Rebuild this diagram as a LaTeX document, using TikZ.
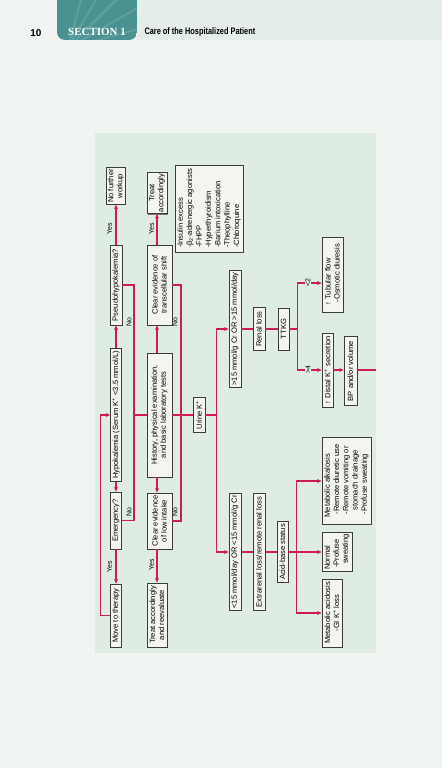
\documentclass[tikz,border=0pt]{standalone}
\usepackage{fontspec}
\setmainfont{Liberation Sans}
\newfontfamily\slabfont{Liberation Serif}
\usetikzlibrary{arrows.meta,shadows}
\definecolor{pagebg}{RGB}{240,245,242}
\definecolor{bandbg}{RGB}{228,237,232}
\definecolor{tabteal}{RGB}{74,146,146}
\definecolor{panelbg}{RGB}{223,236,227}
\definecolor{flowred}{RGB}{204,30,80}
\definecolor{boxfill}{RGB}{244,244,241}
\definecolor{boxline}{RGB}{60,60,60}

\begin{document}
\begin{tikzpicture}[x=1bp, y=-1bp,
    box/.style={draw=boxline, line width=0.7bp, fill=boxfill, rotate=90, inner sep=1.5bp, align=center,
        font=\fontsize{7.6}{9}\selectfont, general shadow={fill=black!55, shadow xshift=0.9bp, shadow yshift=-0.9bp}},
    sz/.style 2 args={minimum width=#1bp, minimum height=#2bp},
    lab/.style={rotate=90, inner sep=1bp, font=\fontsize{7}{8}\selectfont},
    arr/.style={draw=flowred, line width=1.2bp, -{Stealth[length=4.5bp, width=4bp]}},
    ln/.style={draw=flowred, line width=1.2bp},
]
\useasboundingbox (0,0) rectangle (442,768);
\clip (0,0) rectangle (442,768);

% Page and running head
\fill[pagebg] (0,0) rectangle (442,768);
\fill[bandbg] (137,0) rectangle (442,40);
\begin{scope}
\clip[rounded corners=8bp] (57,-10) rectangle (137,40);
\fill[tabteal] (57,-10) rectangle (137,40);
\foreach \a in {15,30,45,60,75}
    \draw[white, opacity=0.12, line width=2bp] (68,48) -- ++(-\a:90);
\end{scope}
\node[font=\bfseries\fontsize{10}{12}\selectfont] (pagenum) at (36,33) {10};
\node[text=white, font=\slabfont\bfseries\fontsize{11}{12}\selectfont] (section) at (97,32) {SECTION 1};
\node[anchor=west, font=\bfseries\fontsize{9.5}{11}\selectfont] (runhead) at (141,32)
    {\scalebox{0.78}[1]{Care of the Hospitalized Patient}};

% Panel
\fill[panelbg] (95,133) rectangle (376,653);

% Column 1
\node[box, sz={34}{18}] (nowork) at (116,186) {No further\\workup};
\node[box, sz={80}{12}] (pseudo) at (116,285) {Pseudohypokalemia?};
\node[box, sz={133}{11}] (hypo) at (116,415) {Hypokalemia (Serum K\textsuperscript{+} <3.5 mmol/L)};
\node[box, sz={57}{11}] (emerg) at (116,520.5) {Emergency?};
\node[box, sz={63}{11}] (move) at (116,615.5) {Move to therapy};

% Column 2
\node[box, sz={40}{20}] (treat) at (157,193) {Treat\\accordingly};
\node[box, sz={80}{25}] (shift) at (159.5,285) {Clear evidence of\\transcellular shift};
\node[box, sz={124}{25}] (hist) at (159.5,415) {History, physical examination,\\and basic laboratory tests};
\node[box, sz={56}{25}] (intake) at (159.5,521) {Clear evidence\\of low intake};
\node[box, sz={64}{20}] (reeval) at (157,615) {Treat accordingly\\and reevaluate};

% Causes of shift
\node[box, sz={87}{68}, align=left, font=\fontsize{7.6}{9.4}\selectfont] (causes) at (209,208.5)
    {-Insulin excess\\-β\textsubscript{2}-adrenergic agonists\\-FHPP\\-Hyperthyroidism\\-Barium intoxication\\-Theophylline\\-Chloroquine};

% Urine K+ branch
\node[box, sz={35}{12}] (urine) at (199,415) {Urine K\textsuperscript{+}};
\node[box, sz={117}{12}] (high) at (235,329) {>15 mmol/g Cr OR >15 mmol/day};
\node[box, sz={117}{12}] (low) at (235,552) {<15 mmol/day OR <15 mmol/g Cr};
\node[box, sz={43}{12}] (renal) at (259,329) {Renal loss};
\node[box, sz={117}{12}] (extra) at (259,552) {Extrarenal loss/remote renal loss};
\node[box, sz={42}{11}] (ttkg) at (283.5,329) {TTKG};
\node[box, sz={61}{11}] (acid) at (282.5,552) {Acid-base status};

% Outcomes
\node[box, sz={75}{21}, align=left] (tubular) at (332.5,274.5) {↑ Tubular flow\\\hspace{3bp}-Osmotic diuresis};
\node[box, sz={74}{11}] (distal) at (327.5,370) {↑ Distal K\textsuperscript{+} secretion};
\node[box, sz={69}{13}] (bp) at (350.5,371) {BP and/or volume};
\node[box, sz={87}{49}, align=left, font=\fontsize{7.6}{9.3}\selectfont] (alk) at (346.5,481)
    {Metabolic alkalosis\\\hspace{3bp}-Remote diuretic use\\\hspace{3bp}-Remote vomiting or\\\hspace{7bp}stomach drainage\\\hspace{3bp}-Profuse sweating};
\node[box, sz={38}{30}, align=left] (normal) at (337,552) {Normal\\\hspace{2bp}-Profuse\\\hspace{6bp}sweating};
\node[box, sz={68}{20}] (acidosis) at (332,613) {Metabolic acidosis\\-GI K\textsuperscript{+} loss};

% Connectors, column 1
\coordinate (jl) at (134,415);
\coordinate (jr) at (181,415);
\draw[arr] (hypo.east) -- (pseudo.west);
\draw[arr] (pseudo.east) -- (nowork.west);
\draw[arr] (hypo.west) -- (emerg.east);
\draw[arr] (emerg.west) -- (move.east);
\draw[arr] (move.north) -- ++(-10,0) |- (hypo.north);
\draw[ln] (pseudo.south) -| (jl) -- (hist.north);
\draw[ln] (emerg.south) -| (jl);

% Connectors, column 2
\draw[arr] (treat |- hist.east) -- (treat |- shift.west);
\draw[arr] (treat |- shift.east) -- (treat.west);
\draw[arr] (treat |- hist.west) -- (treat |- intake.east);
\draw[arr] (treat |- intake.west) -- (reeval.east);
\draw[ln] (shift.south) -| (jr);
\draw[ln] (intake.south) -| (jr);
\draw[ln] (hist.south) -- (jr) -- (urine.north);

% Connectors, urine K+
\draw[ln] (urine.south) -- ++(11,0) coordinate (ju);
\draw[arr] (ju) |- (high.north);
\draw[arr] (ju) |- (low.north);
\draw[ln] (high.south) -- (renal.north);
\draw[ln] (renal.south) -- (ttkg.north);
\draw[ln] (ttkg.south) -- ++(8,0) coordinate (jt);
\draw[arr] (jt) |- (tubular.north |- 0,283);
\draw[arr] (jt) |- (distal.north);
\draw[arr] (distal.south) -- (distal.south -| bp.north);
\coordinate (bpout) at (376,370);
\draw[ln] (bp.south |- distal.south) -- (bpout);
\draw[ln] (low.south) -- (extra.north);
\draw[ln] (extra.south) -- (acid.north);
\draw[ln] (acid.south) -- ++(8.5,0) coordinate (ja);
\draw[arr] (ja) |- (alk.north);
\draw[arr] (ja) -- (normal.north);
\draw[arr] (ja) |- (acidosis.north);

% Labels
\node[lab] (yes1) at (109.5,229) {Yes};
\node[lab] (yes2) at (151.5,229) {Yes};
\node[lab] (yes3) at (109.5,567) {Yes};
\node[lab] (yes4) at (151.5,565) {Yes};
\node[lab] (no1) at (129,322) {No};
\node[lab] (no2) at (175,322) {No};
\node[lab] (no3) at (129,512) {No};
\node[lab] (no4) at (175,512) {No};
\node[lab, fill=panelbg] (lt2) at (308,283) {<2};
\node[lab, fill=panelbg] (gt4) at (308,370) {>4};

\end{tikzpicture}
\end{document}
